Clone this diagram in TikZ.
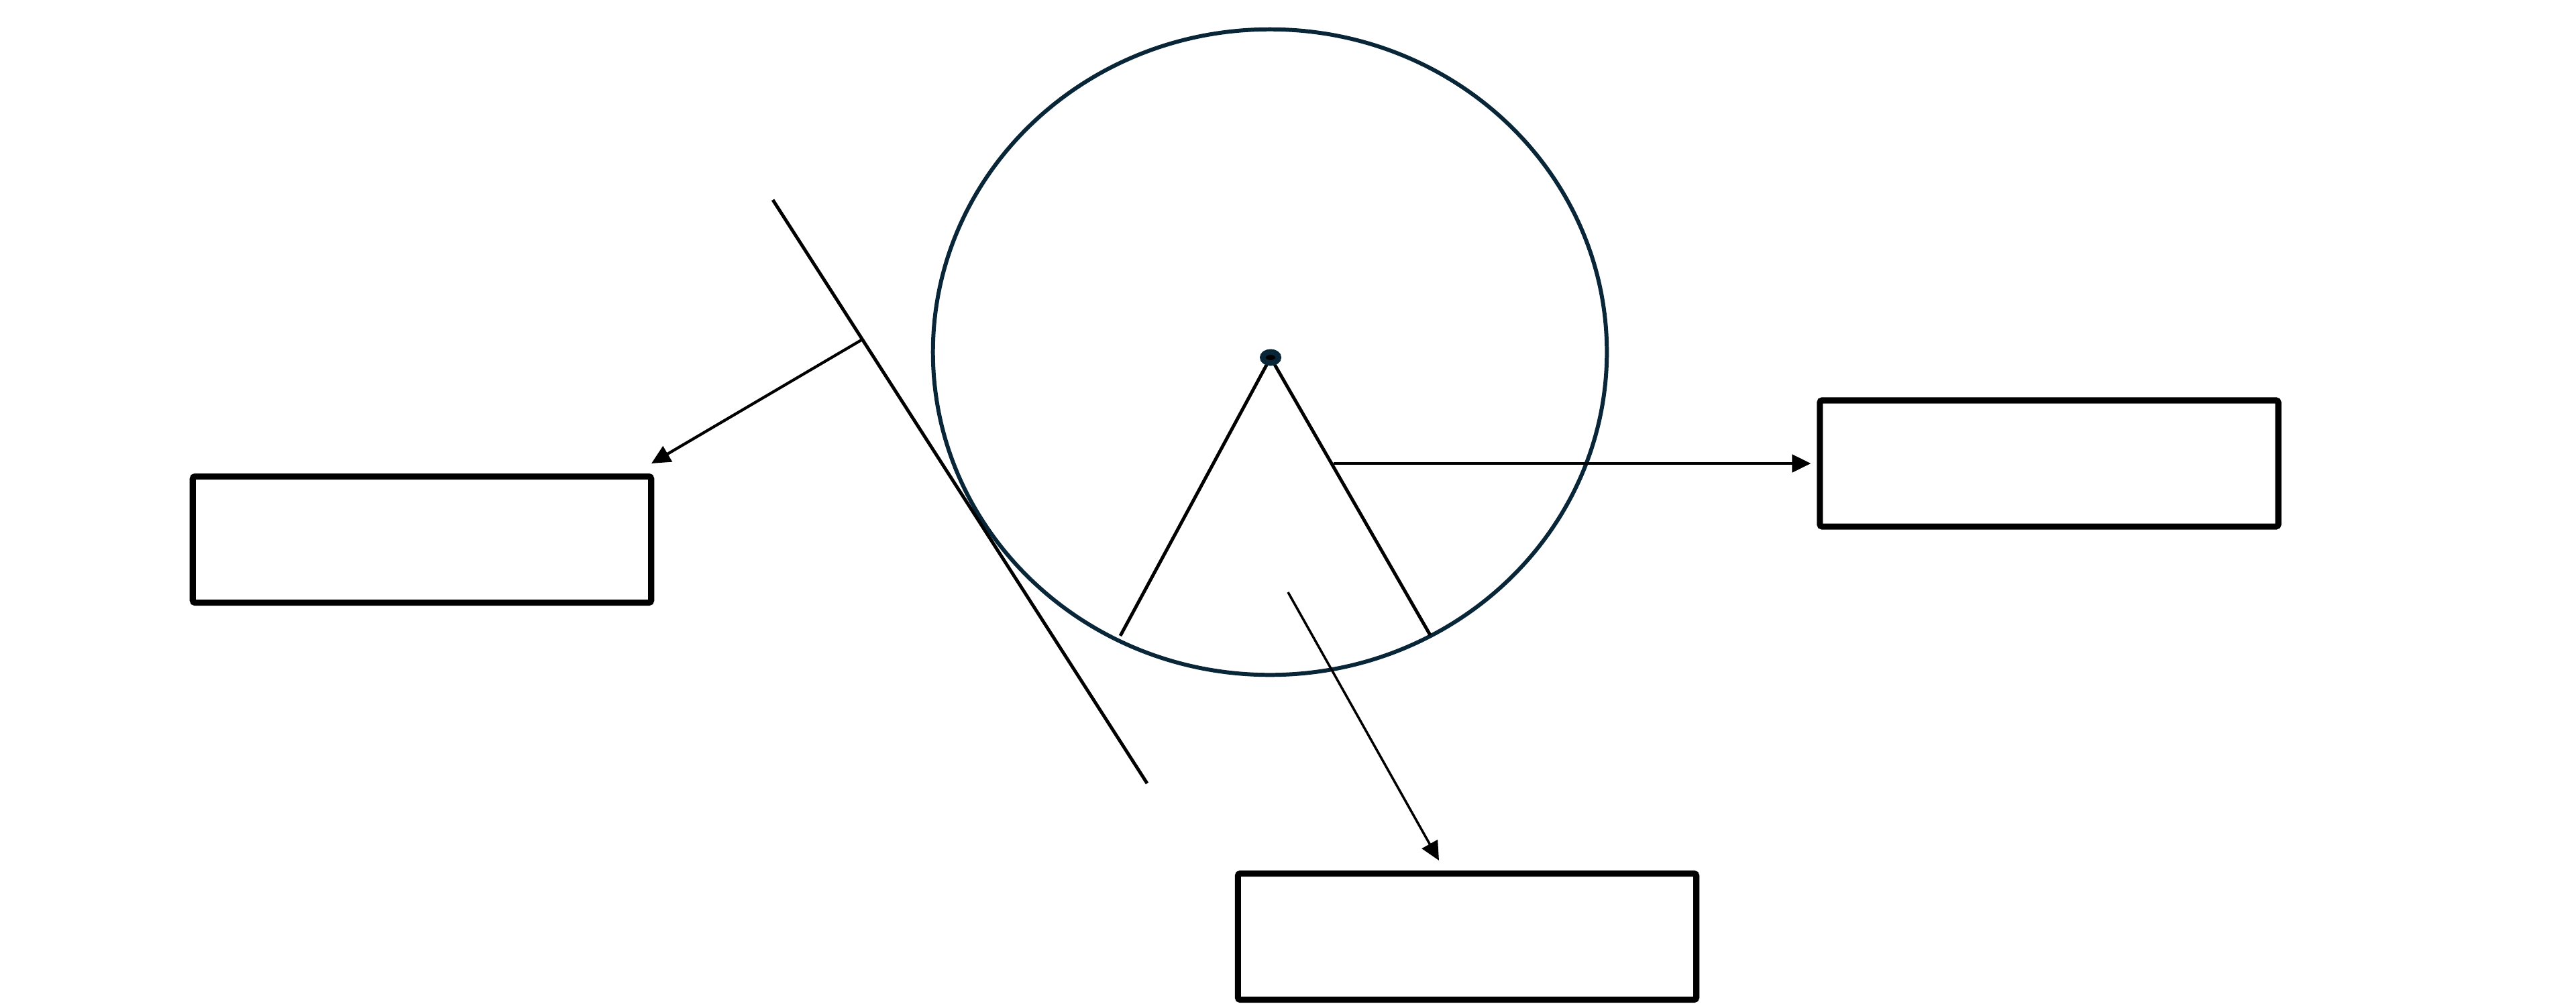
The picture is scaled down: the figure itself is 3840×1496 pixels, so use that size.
\documentclass[tikz,border=0pt]{standalone}
\usepackage{tikz}
\usetikzlibrary{arrows.meta, shapes.geometric, positioning}
\definecolor{rim}{RGB}{8,38,56}
\tikzstyle{arrow} = [line width=1.2pt,-{Triangle[length=8pt,width=7.5pt]}]
\tikzstyle{stick} = [line width=1.4pt]
\tikzset{
	emptybox/.style = {rectangle, draw=black, line width=2.6pt, rounded corners=1pt,
		minimum width=6.83cm, minimum height=1.88cm, inner sep=0pt}
}

\begin{document}
\begin{tikzpicture}[x=0.01cm, y=-0.01cm]
\useasboundingbox (0,0) rectangle (3840,1496);
%----------------------------------------------------------------------------
% Placement of nodes
\node (outerEllipse) [ellipse, draw=rim, line width=1.7pt, minimum width=10.04cm, minimum height=9.62cm, inner sep=0pt] at (1893,525) {};
\node (leftBox) [emptybox] at (629,804.5) {};
\node (rightBox) [emptybox] at (3054.5,691) {};
\node (bottomBox) [emptybox] at (2187,1396.5) {};

\coordinate (spokeLeftEnd) at (1670,948);
\coordinate (spokeRightEnd) at (2132,947);
\coordinate (tangentTop) at (1152,298);
\coordinate (tangentBottom) at (1710,1168);
\coordinate (leftArrowStart) at (1284,507);
\coordinate (leftArrowEnd) at (971,691);
\coordinate (rightArrowStart) at (1988,691);
\coordinate (bottomArrowStart) at (1920,883);
\coordinate (bottomArrowEnd) at (2145,1283);

%----------------------------------------------------------------------------
% Lines
\draw [stick] (1894,533) -- (spokeLeftEnd);
\draw [stick] (1894,533) -- (spokeRightEnd);
\draw [stick] (tangentTop) -- (tangentBottom);

\node (hubDot) [ellipse, draw=rim, fill=black, line width=2.4pt, minimum width=0.235cm, minimum height=0.165cm, inner sep=0pt] at (1894,533) {};

%----------------------------------------------------------------------------
% Arrows
\draw [arrow] (leftArrowStart) -- (leftArrowEnd);
\draw [arrow, shorten >=2.5pt] (rightArrowStart) -- (rightBox.west);
\draw [arrow, line width=1pt] (bottomArrowStart) -- (bottomArrowEnd);

\end{tikzpicture}
\end{document}
